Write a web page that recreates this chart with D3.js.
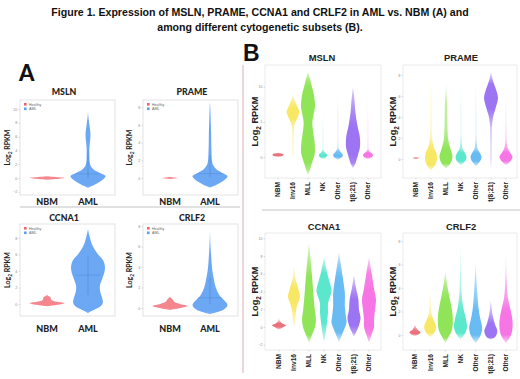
<!DOCTYPE html>
<html><head><meta charset="utf-8">
<script src="https://cdn.jsdelivr.net/npm/d3@7"></script>
<style>body{margin:0;background:#fff}svg{display:block}</style>
</head><body><svg id="c" width="520" height="379"></svg>
<script>
// ================= DATA =================
const titleLines = ["Figure 1. Expression of MSLN, PRAME, CCNA1 and CRLF2 in AML vs. NBM (A) and", "among different cytogenetic subsets (B)."];
const panelLetters = ["A", "B"];
const genes = ["MSLN", "PRAME", "CCNA1", "CRLF2"];
const aGroups = ["NBM", "AML"];
const aLegendLabels = ["Healthy", "AML"];
const bGroups = ["NBM", "Inv16", "MLL", "NK", "Other", "t(8;21)", "Other"];
const yLabel = ["Log", "2", " RPKM"];

const aTicksMSLN = [-2, 0, 2, 4, 6, 8, 10];
const aTicksPRAME = [0, 2, 4, 6, 8];
const aTicksCCNA1 = [0, 2, 4, 6, 8];
const aTicksCRLF2 = [0, 2, 4, 6, 8];
const bTicksMSLN = [0, 5, 10];
const bTicksPRAME = [0, 2, 4, 6, 8];
const bTicksCCNA1 = [-2, 0, 2, 4, 6, 8, 10];
const bTicksCRLF2 = [0, 2, 4, 6, 8];

// density profiles: [log2 RPKM, relative density]
// ---- A: NBM vs AML
const aMSLN_NBM = [[-0.25,0],[-0.1,0.7],[0,1.0],[0.1,0.7],[0.25,0]];
const aMSLN_AML = [[-1.4,0],[-1,0.35],[-0.5,0.7],[0,0.95],[0.3,1.0],[0.7,0.72],[1.2,0.34],[1.7,0.16],[2.2,0.1],[3,0.08],[4,0.075],[5,0.1],[6,0.14],[6.8,0.13],[7.5,0.09],[8.3,0.05],[9,0.02],[9.6,0]];
const aPRAME_NBM = [[-0.12,0],[0,0.45],[0.12,0]];
const aPRAME_AML = [[-1.1,0],[-0.8,0.35],[-0.4,0.7],[0,0.95],[0.2,1.0],[0.5,0.78],[1,0.36],[1.5,0.17],[2,0.11],[3,0.085],[4,0.07],[5,0.065],[6,0.05],[7,0.035],[8,0.018],[8.6,0]];
const aCCNA1_NBM = [[-0.3,0],[-0.1,0.6],[0.1,1.0],[0.3,0.5],[0.5,0.25],[0.8,0.2],[1.1,0]];
const aCCNA1_AML = [[-1.1,0],[-0.7,0.35],[-0.3,0.7],[0.2,0.85],[0.8,0.8],[1.5,0.7],[2.2,0.68],[3,0.8],[3.8,0.93],[4.5,0.97],[5.3,0.86],[6,0.58],[6.8,0.33],[7.5,0.18],[8.3,0.08],[9.1,0]];
const aCRLF2_NBM = [[-0.2,0],[0,0.6],[0.2,1.0],[0.4,0.55],[0.6,0.25],[0.9,0.12],[1.1,0]];
const aCRLF2_AML = [[-0.6,0],[-0.3,0.6],[0,0.9],[0.3,1.0],[0.8,0.78],[1.3,0.52],[2,0.33],[2.9,0.21],[3.6,0.14],[4.2,0.1],[5.2,0.06],[6.1,0.03],[7.6,0]];
// AML inner box: [q1, median, q3]
const aMSLN_box = [0, 0.6, 4];
const aPRAME_box = [0.1, 0.5, 2.6];
const aCCNA1_box = [1.1, 3.5, 5.8];
const aCRLF2_box = [0.4, 1.0, 3.0];

// ---- B: cytogenetic subsets (order = bGroups)
const bMSLN = [
  [[0,0],[0.15,0.6],[0.3,0.75],[0.45,0.6],[0.6,0]],
  [[-0.2,0],[0,0.05],[1,0.07],[3,0.1],[4.5,0.18],[5.5,0.55],[6.4,0.85],[7,0.65],[8,0.25],[8.9,0]],
  [[-2.6,0],[-1.8,0.27],[-0.8,0.55],[0.3,0.87],[1,0.93],[2.4,0.85],[3.6,0.68],[4.9,0.58],[6,0.75],[7.1,0.93],[8,0.9],[9.1,0.75],[10,0.52],[11,0.3],[12.1,0]],
  [[-0.3,0],[0,0.45],[0.3,0.55],[0.6,0.3],[1,0.08],[2,0.04],[4,0.03],[6.4,0]],
  [[-0.4,0],[0,0.55],[0.3,0.65],[0.7,0.35],[1.2,0.1],[2,0.05],[5,0.04],[8.6,0]],
  [[-1.6,0],[-0.9,0.33],[0.3,0.67],[1.4,0.93],[2.9,0.9],[4.3,0.62],[6.3,0.33],[8.1,0.2],[9.3,0.08],[10,0]],
  [[-0.3,0],[0,0.55],[0.3,0.67],[0.6,0.4],[1,0.1],[2,0.05],[5,0.03],[7.7,0]]
];
const bPRAME = [
  [[0,0],[0.1,0.5],[0.2,0]],
  [[-1.1,0],[-0.6,0.53],[0,0.8],[0.6,0.7],[1.2,0.35],[2,0.14],[3,0.08],[5,0.06],[7.5,0]],
  [[-0.9,0],[-0.4,0.6],[0.2,0.87],[0.9,0.62],[1.8,0.3],[3,0.2],[4.5,0.17],[5.4,0.14],[6.3,0.06],[7.2,0]],
  [[-0.6,0],[-0.2,0.55],[0.2,0.73],[0.6,0.5],[1,0.2],[2,0.06],[4,0.04],[7.2,0]],
  [[-0.7,0],[-0.2,0.55],[0.2,0.73],[0.6,0.5],[1,0.2],[2,0.06],[4,0.04],[7.5,0]],
  [[-0.9,0],[0,0.07],[1,0.07],[2,0.09],[3,0.11],[4,0.28],[4.8,0.6],[5.8,0.93],[6.6,0.68],[7.2,0.38],[7.7,0.18],[8.3,0]],
  [[-0.6,0],[-0.2,0.6],[0.2,0.87],[0.6,0.55],[1,0.25],[1.6,0.1],[3,0.05],[6.6,0]]
];
const bCCNA1 = [
  [[-0.3,0],[0,0.6],[0.2,0.93],[0.4,0.45],[0.7,0.1],[1.1,0]],
  [[0,0],[0.5,0.12],[1.1,0.17],[2.3,0.38],[3.4,0.8],[4.5,0.5],[5.6,0.16],[7,0]],
  [[-1.8,0],[-0.9,0.4],[0,0.8],[0.8,0.93],[1.9,0.78],[3.8,0.58],[5.6,0.42],[7.6,0.22],[9.5,0]],
  [[-1.7,0],[-0.7,0.2],[0.5,0.4],[1.6,0.53],[2.7,0.55],[4,1.0],[4.5,0.93],[6.1,0.42],[7.9,0]],
  [[-1.7,0],[-0.6,0.53],[0.5,1.0],[1.1,0.93],[2.3,0.78],[3.8,0.78],[5.6,0.5],[7,0.25],[8.4,0]],
  [[-1.1,0],[-0.6,0.27],[0.2,0.67],[1,0.87],[1.9,0.67],[3.1,0.58],[4.5,0.25],[5.9,0]],
  [[-1.8,0],[-0.9,0.33],[0,0.67],[0.8,0.67],[1.9,0.8],[3.1,0.93],[4.2,0.7],[6.1,0.35],[7.9,0]]
];
const bCRLF2 = [
  [[-0.1,0],[0.1,0.6],[0.25,0.73],[0.45,0.35],[0.85,0]],
  [[-0.2,0],[0.2,0.55],[0.7,0.8],[1.3,0.45],[1.9,0.16],[2.8,0.07],[4.1,0]],
  [[-0.7,0],[-0.2,0.4],[0.4,0.87],[1.3,1.0],[2.1,0.9],[3,0.62],[4.1,0.28],[5.4,0]],
  [[-0.4,0],[0.2,0.67],[0.7,0.87],[1.3,0.75],[2.4,0.35],[3.6,0.15],[5.5,0.05],[7.8,0]],
  [[-0.7,0],[0,0.67],[0.6,0.87],[1.3,0.65],[2.1,0.42],[3.6,0.22],[6.1,0]],
  [[-0.4,0],[-0.2,0.53],[0.3,0.87],[1.0,0.5],[1.9,0.18],[3.0,0]],
  [[-0.7,0],[0,0.67],[0.6,0.87],[1.3,0.85],[2.1,0.62],[3.2,0.25],[5,0.08],[6.8,0]]
];

// ================= STYLE / LAYOUT =================
const aColors = ["#f2606b", "#5b9ef2"];
const bColors = ["#e5505c", "#f7e34a", "#7de03c", "#3fe3c4", "#4fb0f0", "#8c5cf0", "#f55ee0"];
const svg = d3.select("#c");
const defs = svg.append("defs");
const ARIAL = "Liberation Sans, Arial, sans-serif";
const CAL = "Lato, Open Sans, sans-serif";
let gradId = 0;

// title
svg.selectAll("text.title").data(titleLines).join("text")
  .attr("x", 260).attr("y", (d, i) => 16 + i * 15)
  .attr("text-anchor", "middle").attr("font-family", ARIAL)
  .attr("font-weight", "bold").attr("font-size", 10.6).attr("fill", "#111").text(d => d);

svg.append("text").attr("x", 19).attr("y", 81).attr("font-family", CAL).attr("font-weight", 900)
  .attr("font-size", 22).attr("fill", "#111").text(panelLetters[0]);
svg.append("text").attr("x", 243).attr("y", 61).attr("font-family", ARIAL).attr("font-weight", "bold")
  .attr("font-size", 23).attr("fill", "#111").text(panelLetters[1]);

// separators
svg.append("line").attr("x1", 243).attr("x2", 243).attr("y1", 65).attr("y2", 373)
  .attr("stroke", "#dfaab8").attr("stroke-width", 1);
svg.append("line").attr("x1", 20).attr("x2", 240).attr("y1", 207).attr("y2", 207)
  .attr("stroke", "#c4c4c4").attr("stroke-width", 1.2);
svg.append("line").attr("x1", 262).attr("x2", 520).attr("y1", 210).attr("y2", 210)
  .attr("stroke", "#e2e2e2").attr("stroke-width", 2);

function yLab(g, x, y, size, font) {
  const t = g.append("text").attr("transform", `translate(${x},${y}) rotate(-90)`)
    .attr("text-anchor", "middle").attr("font-family", font).attr("font-weight", "bold")
    .attr("font-size", size).attr("fill", "#222");
  t.append("tspan").text(yLabel[0]);
  t.append("tspan").attr("font-size", size * 0.7).attr("dy", size * 0.28).text(yLabel[1]);
  t.append("tspan").attr("dy", -size * 0.28).text(yLabel[2]);
}

function panel(o) {
  const g = svg.append("g");
  const [x0, y0, x1, y1] = o.box;
  const y = d3.scaleLinear().domain(o.domain).range([y1, y0]);
  const x = d3.scalePoint().domain(d3.range(o.groups.length)).range(o.xr);
  const w = d3.scaleLinear().domain([0, 1]).range([0, o.half]);
  const op = d3.scaleLinear().domain([0, o.fadeAt]).range([o.fadeMin, 0.9]).clamp(true);
  g.append("rect").attr("x", x0).attr("y", y0).attr("width", x1 - x0).attr("height", y1 - y0)
    .attr("fill", "none").attr("stroke", o.frame).attr("stroke-width", 0.8);
  const ax = g.append("g").attr("transform", `translate(${x0},0)`)
    .call(d3.axisLeft(y).tickValues(o.ticks).tickSize(1.5).tickPadding(1.2));
  ax.select(".domain").remove();
  ax.selectAll("text").attr("font-size", o.tickFont).attr("fill", "#888").attr("font-family", ARIAL);
  ax.selectAll("line").attr("stroke", "#aaa").attr("stroke-width", 0.4);
  // title
  g.append("text").attr("x", o.titleX).attr("y", o.titleY).attr("text-anchor", "middle")
    .attr("font-family", o.font).attr("font-weight", o.titleWeight).attr("font-size", o.titleSize)
    .attr("fill", "#222").text(o.title);
  yLab(g, o.ylabX, (y0 + y1) / 2, o.ylabSize, o.font);
  // violins
  o.profiles.forEach((p, i) => {
    const cx = x(i);
    const vTop = p[p.length - 1][0], vBot = p[0][0];
    const id = "vg" + (gradId++);
    const gr = defs.append("linearGradient").attr("id", id).attr("gradientUnits", "userSpaceOnUse")
      .attr("x1", 0).attr("x2", 0).attr("y1", y(vTop)).attr("y2", y(vBot));
    p.slice().reverse().forEach(d => {
      gr.append("stop").attr("offset", (y(d[0]) - y(vTop)) / (y(vBot) - y(vTop)))
        .attr("stop-color", o.colors[i]).attr("stop-opacity", op(d[1]) * o.opacity[i]);
    });
    const area = d3.area().curve(d3.curveCatmullRom.alpha(0.5))
      .y(d => y(d[0])).x0(d => cx - w(d[1])).x1(d => cx + w(d[1]));
    g.append("path").datum(p).attr("d", area).attr("fill", `url(#${id})`);
  });
  if (o.box3) {
    const cx = x(1), bx = o.box3;
    g.append("line").attr("x1", cx).attr("x2", cx).attr("y1", y(bx[0])).attr("y2", y(bx[2]))
      .attr("stroke", "#3a6fc0").attr("stroke-width", 0.5).attr("stroke-opacity", 0.7);
    g.append("line").attr("x1", cx - o.half * 0.7).attr("x2", cx + o.half * 0.7).attr("y1", y(bx[1])).attr("y2", y(bx[1]))
      .attr("stroke", "#3a6fc0").attr("stroke-width", 0.4).attr("stroke-opacity", 0.6);
  }
  // x labels
  if (o.rotate) {
    g.selectAll("text.xl").data(o.groups).join("text")
      .attr("transform", (d, i) => `translate(${x(i) + 2.4},${y1 + 4}) rotate(-90)`)
      .attr("text-anchor", "end").attr("font-family", ARIAL).attr("font-weight", "bold")
      .attr("font-size", 6.6).attr("fill", "#222").text(d => d);
    g.selectAll("line.xt").data(o.groups).join("line")
      .attr("x1", (d, i) => x(i)).attr("x2", (d, i) => x(i)).attr("y1", y1).attr("y2", y1 + 1.5)
      .attr("stroke", "#aaa").attr("stroke-width", 0.4);
  } else {
    g.selectAll("text.xl").data(o.groups).join("text")
      .attr("x", (d, i) => x(i)).attr("y", o.xlabY).attr("text-anchor", "middle")
      .attr("font-family", CAL).attr("font-weight", 900).attr("font-size", 9)
      .attr("fill", "#222").text(d => d);
  }
  if (o.legend) {
    o.legend.forEach((d, i) => {
      g.append("rect").attr("x", x0 + 4).attr("y", y0 + 3 + i * 4.5).attr("width", 2.6).attr("height", 2.6)
        .attr("fill", o.colors[i]);
      g.append("text").attr("x", x0 + 9).attr("y", y0 + 5.6 + i * 4.5).attr("font-family", ARIAL)
        .attr("font-size", 3.6).attr("fill", "#666").text(d);
    });
  }
}

// ---- Panel A
const aCommon = { groups: aGroups, colors: aColors, half: 17.5, frame: "#dcdcdc", tickFont: 3.6,
  font: CAL, titleSize: 8.8, titleWeight: 900, ylabSize: 7, legend: aLegendLabels, opacity: [0.85, 1],
  fadeAt: 0.05, fadeMin: 0.75 };
panel({ ...aCommon, box: [20, 100, 115, 195], domain: [-2.46, 11.3], ticks: aTicksMSLN, xr: [47, 88],
  profiles: [aMSLN_NBM, aMSLN_AML], box3: aMSLN_box, title: genes[0], titleX: 64, titleY: 95, ylabX: 10, xlabY: 205 });
panel({ ...aCommon, box: [143, 100, 238, 195], domain: [-1.92, 8.81], ticks: aTicksPRAME, xr: [170, 210],
  profiles: [aPRAME_NBM, aPRAME_AML], box3: aPRAME_box, title: genes[1], titleX: 192, titleY: 95, ylabX: 132, xlabY: 205 });
panel({ ...aCommon, box: [20, 224, 115, 316], domain: [-1.45, 9.7], ticks: aTicksCCNA1, xr: [47, 88],
  profiles: [aCCNA1_NBM, aCCNA1_AML], box3: aCCNA1_box, title: genes[2], titleX: 64, titleY: 221, ylabX: 10, xlabY: 332 });
panel({ ...aCommon, box: [143, 224, 238, 316], domain: [-0.78, 8.2], ticks: aTicksCRLF2, xr: [170, 210],
  profiles: [aCRLF2_NBM, aCRLF2_AML], box3: aCRLF2_box, title: genes[3], titleX: 192, titleY: 221, ylabX: 132, xlabY: 332 });

// ---- Panel B
const bCommon = { groups: bGroups, colors: bColors, half: 7.5, frame: "#e6e6e6", tickFont: 3.4,
  font: ARIAL, titleSize: 9.4, titleWeight: "bold", ylabSize: 9.2, rotate: true,
  opacity: [0.9, 0.95, 0.95, 0.95, 0.95, 0.95, 0.95], fadeAt: 0.4, fadeMin: 0.25 };
panel({ ...bCommon, box: [265, 65, 381, 178], domain: [-3, 13.1], ticks: bTicksMSLN, xr: [278, 368],
  profiles: bMSLN, title: genes[0], titleX: 322, titleY: 61, ylabX: 258 });
panel({ ...bCommon, box: [403, 65, 517, 178], domain: [-1.81, 8.95], ticks: bTicksPRAME, xr: [416, 506],
  profiles: bPRAME, title: genes[1], titleX: 461, titleY: 61, ylabX: 396 });
panel({ ...bCommon, box: [265, 233, 381, 350], domain: [-2.6, 10.6], ticks: bTicksCCNA1, xr: [279, 369],
  profiles: bCCNA1, title: genes[2], titleX: 324, titleY: 230, ylabX: 258 });
panel({ ...bCommon, box: [403, 233, 517, 350], domain: [-1.28, 8.68], ticks: bTicksCRLF2, xr: [415, 506],
  profiles: bCRLF2, title: genes[3], titleX: 461, titleY: 230, ylabX: 396 });
</script></body></html>
